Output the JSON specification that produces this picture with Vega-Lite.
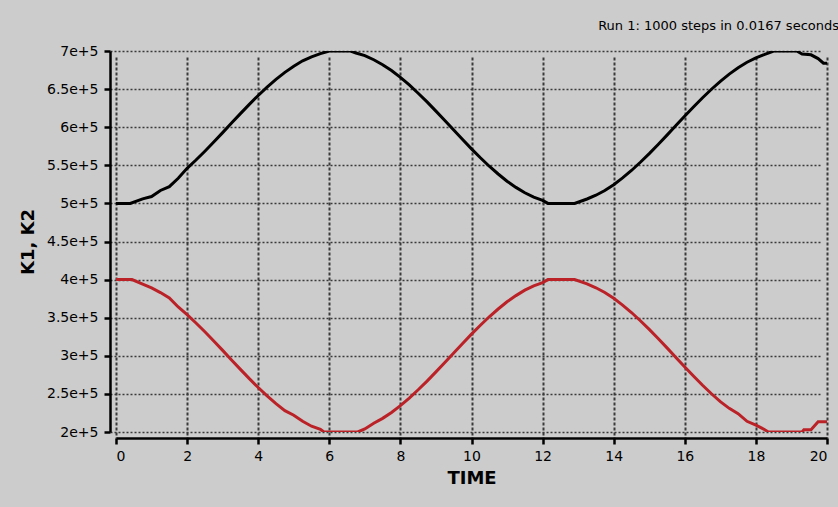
{
  "$schema": "https://vega.github.io/schema/vega-lite/v6.json",
  "width": 711,
  "height": 381,
  "autosize": {"type": "none"},
  "padding": {"left": 116, "top": 51, "right": 11, "bottom": 75},
  "background": "#cccccc",
  "title": {
    "text": "Run 1: 1000 steps in 0.0167 seconds",
    "anchor": "end",
    "frame": "group",
    "font": "DejaVu Sans",
    "fontSize": 13,
    "fontWeight": "normal",
    "color": "#000000",
    "baseline": "alphabetic",
    "offset": 1,
    "dx": 12
  },
  "config": {
    "view": {"stroke": null},
    "axis": {
      "labelFont": "DejaVu Sans",
      "labelFontSize": 14,
      "labelColor": "#000000",
      "titleFont": "DejaVu Sans",
      "titleFontSize": 18,
      "titleFontWeight": "bold",
      "titleColor": "#000000",
      "domainColor": "#000000",
      "domainWidth": 2.5,
      "tickColor": "#000000",
      "tickWidth": 2.5,
      "tickSize": 6,
      "offset": 6,
      "grid": true,
      "gridColor": "#3a3a3a",
      "gridOpacity": 1
    }
  },
  "data": {
    "values": [
      {"t": 0, "v": 500000, "s": "K1"},
      {"t": 0.4, "v": 500000, "s": "K1"},
      {"t": 0.75, "v": 506000, "s": "K1"},
      {"t": 1.0, "v": 509000, "s": "K1"},
      {"t": 1.25, "v": 517000, "s": "K1"},
      {"t": 1.5, "v": 522000, "s": "K1"},
      {"t": 1.75, "v": 533000, "s": "K1"},
      {"t": 2.0, "v": 546000, "s": "K1"},
      {"t": 2.25, "v": 556900, "s": "K1"},
      {"t": 2.5, "v": 568500, "s": "K1"},
      {"t": 2.75, "v": 580500, "s": "K1"},
      {"t": 3.0, "v": 592900, "s": "K1"},
      {"t": 3.25, "v": 605400, "s": "K1"},
      {"t": 3.5, "v": 617800, "s": "K1"},
      {"t": 3.75, "v": 630000, "s": "K1"},
      {"t": 4.0, "v": 641600, "s": "K1"},
      {"t": 4.25, "v": 652600, "s": "K1"},
      {"t": 4.5, "v": 662800, "s": "K1"},
      {"t": 4.75, "v": 672000, "s": "K1"},
      {"t": 5.0, "v": 680100, "s": "K1"},
      {"t": 5.25, "v": 687100, "s": "K1"},
      {"t": 5.5, "v": 692400, "s": "K1"},
      {"t": 5.75, "v": 696500, "s": "K1"},
      {"t": 6.0, "v": 700000, "s": "K1"},
      {"t": 6.6, "v": 700000, "s": "K1"},
      {"t": 6.75, "v": 697300, "s": "K1"},
      {"t": 7.0, "v": 694000, "s": "K1"},
      {"t": 7.25, "v": 688500, "s": "K1"},
      {"t": 7.5, "v": 682000, "s": "K1"},
      {"t": 7.75, "v": 674300, "s": "K1"},
      {"t": 8.0, "v": 665400, "s": "K1"},
      {"t": 8.25, "v": 655500, "s": "K1"},
      {"t": 8.5, "v": 644600, "s": "K1"},
      {"t": 8.75, "v": 633200, "s": "K1"},
      {"t": 9.0, "v": 621100, "s": "K1"},
      {"t": 9.25, "v": 608700, "s": "K1"},
      {"t": 9.5, "v": 596200, "s": "K1"},
      {"t": 9.75, "v": 583800, "s": "K1"},
      {"t": 10.0, "v": 571600, "s": "K1"},
      {"t": 10.25, "v": 559900, "s": "K1"},
      {"t": 10.5, "v": 548800, "s": "K1"},
      {"t": 10.75, "v": 538600, "s": "K1"},
      {"t": 11.0, "v": 529100, "s": "K1"},
      {"t": 11.25, "v": 521000, "s": "K1"},
      {"t": 11.5, "v": 514000, "s": "K1"},
      {"t": 11.75, "v": 508200, "s": "K1"},
      {"t": 12.0, "v": 504000, "s": "K1"},
      {"t": 12.15, "v": 500000, "s": "K1"},
      {"t": 12.9, "v": 500000, "s": "K1"},
      {"t": 13.25, "v": 505800, "s": "K1"},
      {"t": 13.5, "v": 510700, "s": "K1"},
      {"t": 13.75, "v": 517000, "s": "K1"},
      {"t": 14.0, "v": 524600, "s": "K1"},
      {"t": 14.25, "v": 533400, "s": "K1"},
      {"t": 14.5, "v": 543200, "s": "K1"},
      {"t": 14.75, "v": 554000, "s": "K1"},
      {"t": 15.0, "v": 565300, "s": "K1"},
      {"t": 15.25, "v": 577300, "s": "K1"},
      {"t": 15.5, "v": 589600, "s": "K1"},
      {"t": 15.75, "v": 602100, "s": "K1"},
      {"t": 16.0, "v": 614600, "s": "K1"},
      {"t": 16.25, "v": 626800, "s": "K1"},
      {"t": 16.5, "v": 638600, "s": "K1"},
      {"t": 16.75, "v": 649800, "s": "K1"},
      {"t": 17.0, "v": 660200, "s": "K1"},
      {"t": 17.25, "v": 669700, "s": "K1"},
      {"t": 17.5, "v": 678100, "s": "K1"},
      {"t": 17.75, "v": 685300, "s": "K1"},
      {"t": 18.0, "v": 691100, "s": "K1"},
      {"t": 18.25, "v": 695500, "s": "K1"},
      {"t": 18.5, "v": 700000, "s": "K1"},
      {"t": 19.15, "v": 700000, "s": "K1"},
      {"t": 19.3, "v": 696000, "s": "K1"},
      {"t": 19.55, "v": 695000, "s": "K1"},
      {"t": 19.75, "v": 690000, "s": "K1"},
      {"t": 19.9, "v": 684000, "s": "K1"},
      {"t": 20.0, "v": 684000, "s": "K1"},

      {"t": 0, "v": 400000, "s": "K2"},
      {"t": 0.45, "v": 400000, "s": "K2"},
      {"t": 0.75, "v": 394000, "s": "K2"},
      {"t": 1.0, "v": 389000, "s": "K2"},
      {"t": 1.25, "v": 383000, "s": "K2"},
      {"t": 1.5, "v": 376000, "s": "K2"},
      {"t": 1.75, "v": 364100, "s": "K2"},
      {"t": 2.0, "v": 354000, "s": "K2"},
      {"t": 2.25, "v": 343100, "s": "K2"},
      {"t": 2.5, "v": 331500, "s": "K2"},
      {"t": 2.75, "v": 319500, "s": "K2"},
      {"t": 3.0, "v": 307100, "s": "K2"},
      {"t": 3.25, "v": 294600, "s": "K2"},
      {"t": 3.5, "v": 282200, "s": "K2"},
      {"t": 3.75, "v": 270000, "s": "K2"},
      {"t": 4.0, "v": 258400, "s": "K2"},
      {"t": 4.25, "v": 247400, "s": "K2"},
      {"t": 4.5, "v": 237200, "s": "K2"},
      {"t": 4.75, "v": 228000, "s": "K2"},
      {"t": 5.0, "v": 222000, "s": "K2"},
      {"t": 5.25, "v": 214000, "s": "K2"},
      {"t": 5.5, "v": 207600, "s": "K2"},
      {"t": 5.75, "v": 203500, "s": "K2"},
      {"t": 5.85, "v": 200000, "s": "K2"},
      {"t": 6.8, "v": 200000, "s": "K2"},
      {"t": 7.0, "v": 204000, "s": "K2"},
      {"t": 7.25, "v": 211400, "s": "K2"},
      {"t": 7.5, "v": 217900, "s": "K2"},
      {"t": 7.75, "v": 225700, "s": "K2"},
      {"t": 8.0, "v": 234600, "s": "K2"},
      {"t": 8.25, "v": 244500, "s": "K2"},
      {"t": 8.5, "v": 255400, "s": "K2"},
      {"t": 8.75, "v": 266800, "s": "K2"},
      {"t": 9.0, "v": 278900, "s": "K2"},
      {"t": 9.25, "v": 291300, "s": "K2"},
      {"t": 9.5, "v": 303800, "s": "K2"},
      {"t": 9.75, "v": 316200, "s": "K2"},
      {"t": 10.0, "v": 328400, "s": "K2"},
      {"t": 10.25, "v": 340100, "s": "K2"},
      {"t": 10.5, "v": 351200, "s": "K2"},
      {"t": 10.75, "v": 361400, "s": "K2"},
      {"t": 11.0, "v": 370900, "s": "K2"},
      {"t": 11.25, "v": 379000, "s": "K2"},
      {"t": 11.5, "v": 386100, "s": "K2"},
      {"t": 11.75, "v": 391800, "s": "K2"},
      {"t": 12.0, "v": 396000, "s": "K2"},
      {"t": 12.15, "v": 400000, "s": "K2"},
      {"t": 12.9, "v": 400000, "s": "K2"},
      {"t": 13.25, "v": 394300, "s": "K2"},
      {"t": 13.5, "v": 389300, "s": "K2"},
      {"t": 13.75, "v": 383000, "s": "K2"},
      {"t": 14.0, "v": 375400, "s": "K2"},
      {"t": 14.25, "v": 366600, "s": "K2"},
      {"t": 14.5, "v": 356800, "s": "K2"},
      {"t": 14.75, "v": 346000, "s": "K2"},
      {"t": 15.0, "v": 334700, "s": "K2"},
      {"t": 15.25, "v": 322700, "s": "K2"},
      {"t": 15.5, "v": 310400, "s": "K2"},
      {"t": 15.75, "v": 297900, "s": "K2"},
      {"t": 16.0, "v": 285400, "s": "K2"},
      {"t": 16.25, "v": 273200, "s": "K2"},
      {"t": 16.5, "v": 261400, "s": "K2"},
      {"t": 16.75, "v": 250200, "s": "K2"},
      {"t": 17.0, "v": 239800, "s": "K2"},
      {"t": 17.25, "v": 231000, "s": "K2"},
      {"t": 17.5, "v": 224000, "s": "K2"},
      {"t": 17.75, "v": 214000, "s": "K2"},
      {"t": 18.0, "v": 209000, "s": "K2"},
      {"t": 18.25, "v": 203000, "s": "K2"},
      {"t": 18.35, "v": 200000, "s": "K2"},
      {"t": 19.3, "v": 200000, "s": "K2"},
      {"t": 19.35, "v": 203000, "s": "K2"},
      {"t": 19.55, "v": 203000, "s": "K2"},
      {"t": 19.75, "v": 213500, "s": "K2"},
      {"t": 20.0, "v": 213500, "s": "K2"}
    ]
  },
  "mark": {"type": "line", "strokeWidth": 3, "clip": true},
  "encoding": {
    "x": {
      "field": "t",
      "type": "quantitative",
      "scale": {"domain": [0, 20], "nice": false},
      "axis": {
        "title": "TIME",
        "values": [0, 2, 4, 6, 8, 10, 12, 14, 16, 18, 20],
        "labelPadding": 5,
        "titlePadding": 6,
        "gridWidth": 2,
        "gridDash": [3, 2]
      }
    },
    "y": {
      "field": "v",
      "type": "quantitative",
      "scale": {"domain": [200000, 700000], "nice": false, "zero": false},
      "axis": {
        "title": "K1, K2",
        "values": [200000, 250000, 300000, 350000, 400000, 450000, 500000, 550000, 600000, 650000, 700000],
        "labelExpr": "(datum.value / 100000) + 'e+5'",
        "labelPadding": 6,
        "titlePadding": 9,
        "gridWidth": 1.5,
        "gridDash": [2, 2]
      }
    },
    "color": {
      "field": "s",
      "type": "nominal",
      "scale": {"domain": ["K1", "K2"], "range": ["#000000", "#bb2228"]},
      "legend": null
    }
  }
}
